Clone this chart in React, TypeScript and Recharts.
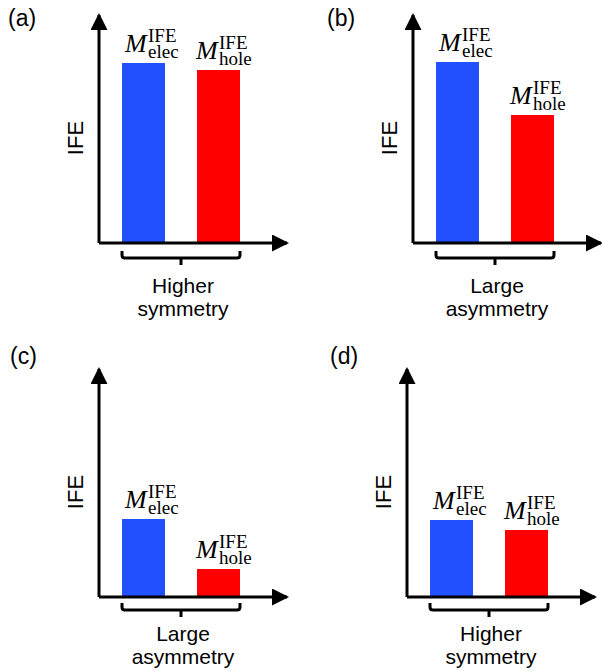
import React from 'react';
import { BarChart, Bar, XAxis, YAxis, Cell, LabelList } from 'recharts';

// ---- data ----
const categories = ['elec', 'hole'];
const valuesA = [78.9, 75.9];
const valuesB = [79.4, 56.1];
const valuesC = [34.2, 12.3];
const valuesD = [33.8, 29.4];
const captionA = ['Higher', 'symmetry'];
const captionB = ['Large', 'asymmetry'];
const captionC = ['Large', 'asymmetry'];
const captionD = ['Higher', 'symmetry'];
const panelLetters = ['(a)', '(b)', '(c)', '(d)'];
const yLabel = 'IFE';
const superscript = 'IFE';

// ---- style ----
const BLUE = '#2350ff';
const RED = '#ff0000';
const BAR_SIZE = 43;
const SANS = '"Liberation Sans", Arial, sans-serif';
const SERIF = '"Liberation Serif", "Times New Roman", serif';
const labelDx = [3, -1];

const panels = [
  { values: valuesA, caption: captionA, left: 0, top: 0, braceDy: 15, textDy: 50 },
  { values: valuesB, caption: captionB, left: 314, top: 0, braceDy: 15, textDy: 50 },
  { values: valuesC, caption: captionC, left: 0, top: 354, braceDy: 13, textDy: 44 },
  { values: valuesD, caption: captionD, left: 308, top: 354, braceDy: 13, textDy: 44 },
];
const letterPos = [
  { x: 8, y: 26 },
  { x: 327, y: 26 },
  { x: 10, y: 364 },
  { x: 330, y: 364 },
];

const MathLabel = (props: any) => {
  const { x, y, value } = props;
  const idx = categories.indexOf(String(value));
  const left = Number(x) + (labelDx[idx] ?? 0);
  const top = Number(y);
  return (
    <text x={left} y={top - 11} fontFamily={SERIF} fill="#000">
      <tspan fontSize={26} fontStyle="italic">M</tspan>
      <tspan x={left + 23} y={top - 21} fontSize={19}>{superscript}</tspan>
      <tspan x={left + 23} y={top - 5} fontSize={19}>{String(value)}</tspan>
    </text>
  );
};

const BraceTick = (props: any) => {
  const { x, y, payload, caption, braceDy, textDy } = props;
  const index = props.index ?? payload?.index;
  if (index !== 0) return <g />;
  const half = payload?.offset ?? 37.5;
  const L = Number(x) - BAR_SIZE / 2;
  const mid = Number(x) + half;
  const R = 2 * mid - L;
  const h = Number(y) + braceDy;
  const d = `M${L},${h - 7} L${L},${h - 3} Q${L},${h} ${L + 3},${h} L${R - 3},${h} Q${R},${h} ${R},${h - 3} L${R},${h - 7} M${mid},${h} L${mid},${h + 7}`;
  return (
    <g>
      <path d={d} stroke="#000" strokeWidth={3} fill="none" />
      <text x={mid + 2} y={Number(y) + textDy} textAnchor="middle" fontFamily={SANS} fontSize={21} fill="#000">{caption[0]}</text>
      <text x={mid + 2} y={Number(y) + textDy + 23} textAnchor="middle" fontFamily={SANS} fontSize={21} fill="#000">{caption[1]}</text>
    </g>
  );
};

const YLabel = (props: any) => {
  const vb = props.viewBox || {};
  const cx = Number(vb.x ?? 59) + Number(vb.width ?? 40) - 24;
  const cy = 138;
  return (
    <text x={cx} y={cy} transform={`rotate(-90 ${cx} ${cy})`} textAnchor="middle" dominantBaseline="central" fontFamily={SANS} fontSize={22} fill="#000">
      {yLabel}
    </text>
  );
};

const Panel = ({ p }: { p: typeof panels[number] }) => {
  const data = categories.map((c, i) => ({ name: c, value: p.values[i] }));
  const colors = [BLUE, RED];
  return (
    <div style={{ position: 'absolute', left: p.left, top: p.top }}>
      <BarChart width={300} height={320} data={data} margin={{ top: 15, right: 13, bottom: 0, left: 59 }}>
        <XAxis
          dataKey="name"
          height={77}
          padding={{ left: 7, right: 31 }}
          interval={0}
          tickLine={false}
          tickSize={0}
          tickMargin={0}
          axisLine={{ stroke: '#000', strokeWidth: 3, markerEnd: 'url(#arrowHead)' } as any}
          tick={(tp: any) => <BraceTick {...tp} caption={p.caption} braceDy={p.braceDy} textDy={p.textDy} />}
        />
        <YAxis
          type="number"
          domain={[0, 100]}
          allowDataOverflow
          width={40}
          tick={false}
          tickLine={false}
          axisLine={{ stroke: '#000', strokeWidth: 3, markerStart: 'url(#arrowHead)' } as any}
          label={{ content: (lp: any) => <YLabel {...lp} /> } as any}
        />
        <Bar dataKey="value" barSize={BAR_SIZE} isAnimationActive={false}>
          {data.map((d, i) => (
            <Cell key={d.name} fill={colors[i]} />
          ))}
          <LabelList dataKey="name" content={(lp: any) => <MathLabel {...lp} />} />
        </Bar>
      </BarChart>
    </div>
  );
};

export default function App() {
  return (
    <div style={{ position: 'absolute', left: 0, top: 0, width: 602, height: 671, overflow: 'hidden', background: '#fff' }}>
      <svg width={602} height={671} style={{ position: 'absolute', left: 0, top: 0, pointerEvents: 'none' }}>
        <defs>
          <marker id="arrowHead" markerUnits="userSpaceOnUse" markerWidth={17} markerHeight={17} viewBox="0 0 17 17" refX={15} refY={8.5} orient="auto-start-reverse">
            <path d="M0,0 L17,8.5 L0,17 Z" fill="#000" />
          </marker>
        </defs>
        {panelLetters.map((l, i) => (
          <text key={l} x={letterPos[i].x} y={letterPos[i].y} fontFamily={SANS} fontSize={23} fill="#000">{l}</text>
        ))}
      </svg>
      {panels.map((p, i) => (
        <Panel key={i} p={p} />
      ))}
    </div>
  );
}
